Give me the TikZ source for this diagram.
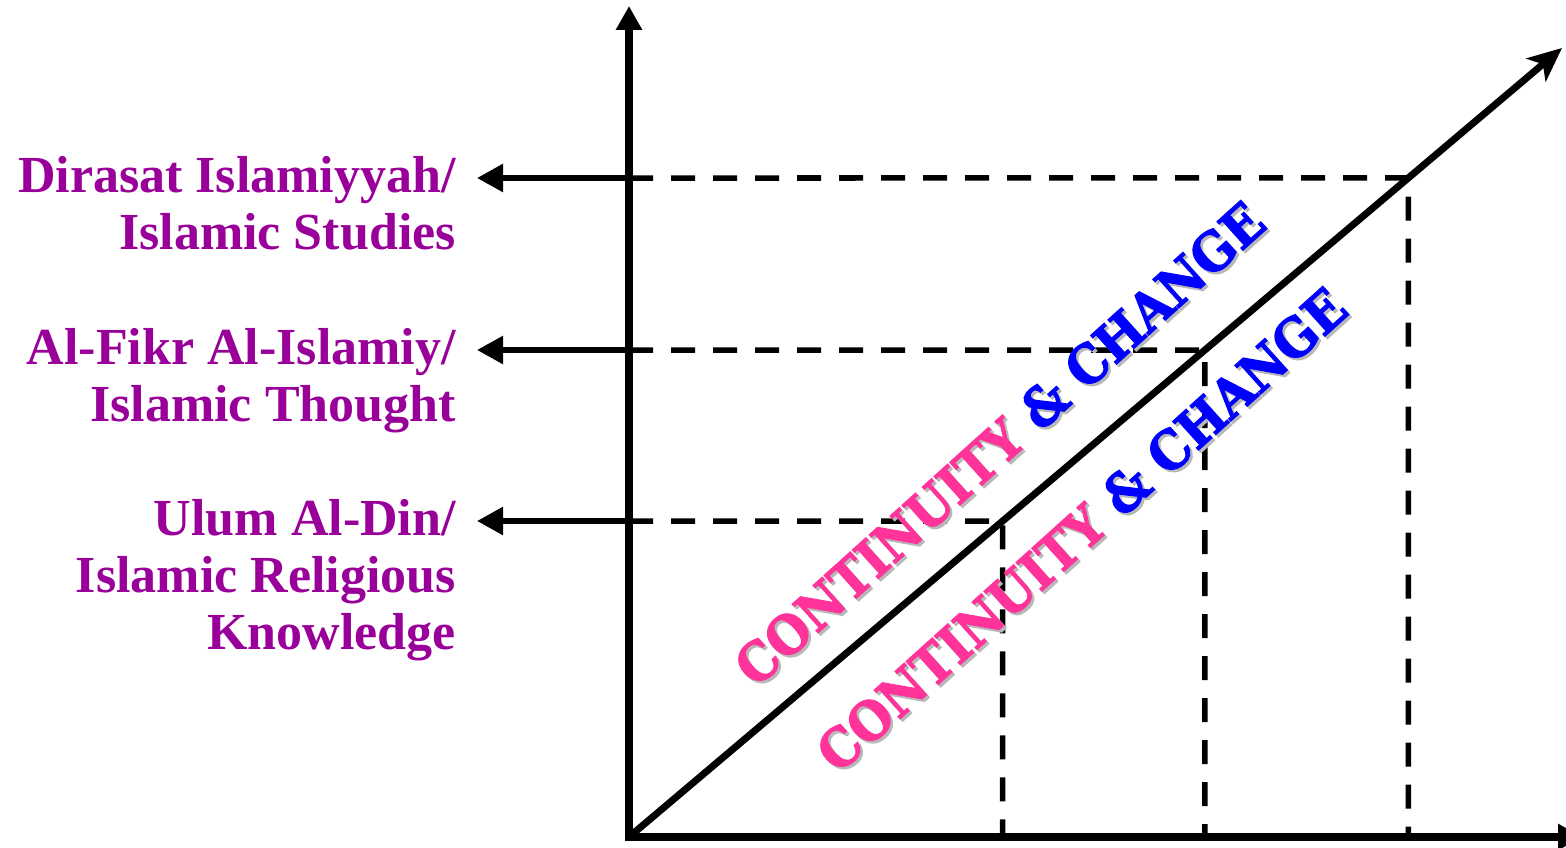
\documentclass[tikz,border=0pt]{standalone}
\usepackage{fontspec}
\setmainfont{Liberation Serif}
\newfontfamily\ccfont{DejaVu Serif}[BoldFeatures={FakeBold=2,FakeStretch=0.92}]
\usetikzlibrary{arrows.meta,calc}
\definecolor{labpurple}{HTML}{990099}
\definecolor{ccpink}{HTML}{FF3399}
\definecolor{ccblue}{HTML}{0000FF}
\begin{document}
\begin{tikzpicture}[x=1pt,y=-1pt,
  axis/.style={line width=7.5pt,line join=miter},
  diag/.style={line width=7pt},
  leftarrow/.style={line width=5.5pt,-{Triangle[length=26pt,width=27pt]}},
  dashline/.style={line width=5.5pt,dash pattern=on 24pt off 18pt},
  lab/.style={font=\fontsize{52}{57}\selectfont\bfseries,text=labpurple,align=right,inner sep=0pt},
  cc/.style={font=\ccfont\bfseries\fontsize{53}{53}\selectfont,rotate=42,inner sep=0pt},
  shadow/.style={cc,text=black!28}
]
\useasboundingbox (0,0) rectangle (1566,848);
% axes
\coordinate (O) at (629,837);
\coordinate (Ytip) at (629,6);
\coordinate (Xtip) at (1582,837);
\coordinate (Dtip) at (1562,48);
% points on diagonal
\coordinate (P1) at ($(O)!0.83523!(Dtip)$);
\coordinate (P2) at ($(O)!0.61724!(Dtip)$);
\coordinate (P3) at ($(O)!0.40051!(Dtip)$);
\coordinate (A1) at (629,178);
\coordinate (A2) at (629,350);
\coordinate (A3) at (629,521);
\coordinate (T1) at (477,178);
\coordinate (T2) at (477,350);
\coordinate (T3) at (477,521);
% dashed guides
\draw[dashline] (A1) -- (P1) -- (P1 |- O);
\draw[dashline] (A2) -- (P2) -- (P2 |- O);
\draw[dashline] (A3) -- (P3) -- (P3 |- O);
% left arrows
\draw[leftarrow] (A1) -- (T1);
\draw[leftarrow] (A2) -- (T2);
\draw[leftarrow] (A3) -- (T3);
% axes
\draw[axis,{Triangle[length=24pt,width=25pt]}-{Triangle[length=24pt,width=25pt]}] (Ytip) -- (O) -- (Xtip);
\draw[diag,-{Stealth[length=34pt,width=30pt,inset=9pt]}] (O) -- (Dtip);
% labels
\node[lab,anchor=base east] (L1) at (456,249) {Dirasat Islamiyyah/\\Islamic Studies};
\node[lab,anchor=base east] (L2) at (456,421) {Al-Fikr Al-Islamiy/\\Islamic Thought};
\node[lab,anchor=base east] (L3) at (456,649) {Ulum Al-Din/\\Islamic Religious\\Knowledge};
% rotated texts
\node[shadow] (S1) at (1002,446) {CONTINUITY \& CHANGE};
\node[cc] (C1) at (999.5,443.5) {\textcolor{ccpink}{CONTINUITY} \textcolor{ccblue}{\& CHANGE}};
\node[shadow] (S2) at (1084,532) {CONTINUITY \& CHANGE};
\node[cc] (C2) at (1081.5,529.5) {\textcolor{ccpink}{CONTINUITY} \textcolor{ccblue}{\& CHANGE}};
\end{tikzpicture}
\end{document}
